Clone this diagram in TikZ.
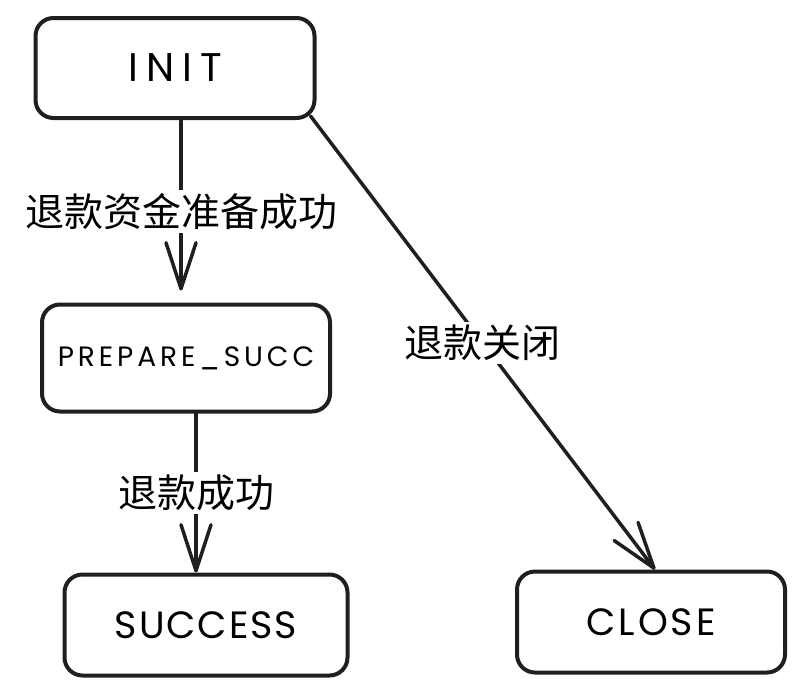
\documentclass[tikz,border=0pt]{standalone}
\usepackage{fontspec}
\setmainfont{Poppins}
\newfontfamily\cjk{Noto Sans CJK SC}
\usetikzlibrary{arrows.meta,positioning}

\begin{document}
\begin{tikzpicture}[
    x=1pt, y=-1pt,
    state/.style={
        rectangle,
        draw=black!88,
        line width=4pt,
        rounded corners=18pt,
        fill=white,
        inner sep=0pt
    },
    trans/.style={
        -{Straight Barb[length=46pt,width=30pt,line cap=round,line join=round]},
        line width=3.5pt,
        draw=black!88,
        line cap=round
    },
    tlabel/.style={
        fill=white,
        inner sep=3pt,
        font=\cjk\fontsize{39}{39}\selectfont
    }
]
    \useasboundingbox (0,0) rectangle (805,694);

    % States
    \node[state, minimum width=279pt, minimum height=100pt,
          font=\fontsize{40}{40}\selectfont\addfontfeatures{LetterSpace=20}] (init) at (175,68) {INIT};
    \node[state, minimum width=288pt, minimum height=107pt,
          font=\fontsize{28}{28}\selectfont\addfontfeatures{LetterSpace=14}] (prep) at (186,358) {PREPARE\_SUCC};
    \node[state, minimum width=283pt, minimum height=101pt,
          font=\fontsize{38}{38}\selectfont\addfontfeatures{LetterSpace=5}] (succ) at (206,625) {SUCCESS};
    \node[state, minimum width=268pt, minimum height=101pt,
          font=\fontsize{38}{38}\selectfont\addfontfeatures{LetterSpace=8}] (close) at (651,622) {CLOSE};

    % Transitions
    \draw[trans, shorten >=12pt] ([xshift=6pt]init.south) -- ([xshift=-5pt]prep.north)
        node[midway, tlabel] {退款资金准备成功};
    \draw[trans] ([xshift=10pt]prep.south) -- ([xshift=-10pt]succ.north)
        node[midway, tlabel] {退款成功};
    \draw[trans] ([xshift=-6pt,yshift=4pt]init.south east) -- ([xshift=4pt]close.north)
        node[midway, tlabel] {退款关闭};

\end{tikzpicture}
\end{document}
